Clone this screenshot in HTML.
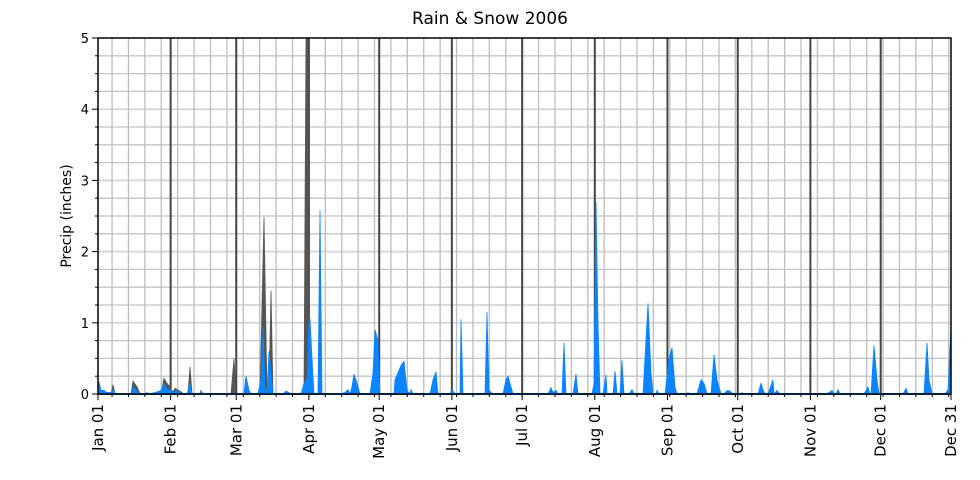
<!DOCTYPE html><html><head><meta charset="utf-8"><style>body{margin:0;background:#fff}svg{display:block}</style></head><body>
<svg id="s" width="980" height="480" xmlns="http://www.w3.org/2000/svg" font-family="DejaVu Sans, Liberation Sans, sans-serif">
<rect width="980" height="480" fill="#fff"/>
<g id="grid"></g>
<polygon id="gray" fill="#555" stroke="#555" stroke-width="0.8"/>
<polygon id="blue" fill="#0a84ff" stroke="#0a84ff" stroke-width="0.8"/>
<line x1="98" y1="394" x2="951" y2="394" stroke="#0a84ff" stroke-width="2"/>
<g id="ax"></g>
<text x="490" y="24" font-size="17" text-anchor="middle">Rain &amp; Snow 2006</text>
<text transform="translate(71,216) rotate(-90)" font-size="14" text-anchor="middle">Precip (inches)</text>
</svg>
<script>
const ns="http://www.w3.org/2000/svg",L=98,R=951,T=38,B=394,S=(B-T)/5,D=(R-L)/364;
function el(p,t,a,txt){const e=document.createElementNS(ns,t);for(const k in a)e.setAttribute(k,a[k]);if(txt!==undefined)e.textContent=txt;document.getElementById(p).appendChild(e);return e;}
const g='grid',ax='ax';
for(let i=1;i<20;i++){const y=B-i*0.25*S;el(g,'line',{x1:L,x2:R,y1:y,y2:y,stroke:i%4==0?'#d8d8d8':'#c4c4c4','stroke-width':i%4==0?2:1.3});}
for(let d=6;d<364;d+=7){const x=L+d*D;el(g,'line',{x1:x,x2:x,y1:T,y2:B,stroke:'#bdbdbd','stroke-width':1.3});el(ax,'line',{x1:x,x2:x,y1:B,y2:B+3,stroke:'#000','stroke-width':1});}
const months=[0,31,59,90,120,151,181,212,243,273,304,334,364],names=['Jan 01','Feb 01','Mar 01','Apr 01','May 01','Jun 01','Jul 01','Aug 01','Sep 01','Oct 01','Nov 01','Dec 01','Dec 31'];
months.forEach((d,i)=>{const x=L+d*D;if(i>0&&i<12)el(g,'line',{x1:x,x2:x,y1:T,y2:B,stroke:'#444','stroke-width':2});el(ax,'line',{x1:x,x2:x,y1:B,y2:B+6,stroke:'#000','stroke-width':1});
el(ax,'text',{transform:`translate(${x+5},${B+10}) rotate(-90)`,'font-size':15,'text-anchor':'end'},names[i]);});
for(let i=0;i<=20;i++){const y=B-i*0.25*S;el(ax,'line',{x1:L,x2:L-(i%4==0?6:3),y1:y,y2:y,stroke:'#000','stroke-width':1});if(i%4==0)el(ax,'text',{x:L-9,y:y+5,'font-size':13,'text-anchor':'end'},String(i/4));}
el(ax,'rect',{x:L,y:T,width:R-L,height:B-T,fill:'none',stroke:'#000','stroke-width':1.5});
function poly(id,pts){let s=`${pts[0][0]},${B} `;pts.forEach(p=>s+=`${p[0]},${B-p[1]*S} `);s+=`${pts[pts.length-1][0]},${B}`;document.getElementById(id).setAttribute('points',s);}
poly('gray',[[98,0],[111,0],[113,0.13],[115,0],[131,0],[133,0.18],[137,0.1],[140,0],[161,0],[164,0.22],[167,0.15],[170,0.1],[172,0],[175,0.08],[180,0.04],[184,0],[188,0],[190,0.38],[192,0],[231,0],[234,0.5],[236,0],[244,0],[246,0.25],[249,0],[260,0],[264,2.48],[267,0],[269,0],[271,1.45],[273,0],[304,0],[306,5],[308,5],[309,0.3],[310,0],[951,0]]);
poly('blue',[[98,0],[99,0.17],[101,0.05],[104,0.05],[107,0.02],[111,0.02],[113,0.06],[115,0],[131,0],[133,0.1],[136,0.05],[139,0],[145,0],[147,0.02],[149,0],[155,0.02],[161,0.05],[164,0.15],[167,0.07],[170,0.05],[172,0.05],[174,0.02],[177,0.05],[180,0.02],[184,0],[187,0],[190,0.15],[192,0],[200,0],[201,0.05],[203,0],[232,0],[244,0],[246,0.25],[249,0.05],[251,0],[258,0],[261,0.2],[263,0.95],[265,0.1],[267,0],[269,0.6],[271,0.3],[273,0],[283,0],[286,0.04],[289,0.02],[292,0],[301,0],[304,0.15],[307,0.2],[309,1.0],[310,1.06],[312,0.5],[314,0],[318,0],[320,2.58],[322,0],[340,0],[345,0.02],[348,0.06],[350,0],[352,0.1],[354,0.28],[357,0.15],[360,0],[370,0],[373,0.3],[375,0.9],[378,0.75],[380,0],[394,0],[395,0.2],[398,0.3],[401,0.4],[404,0.46],[407,0.05],[410,0],[411,0.06],[413,0],[430,0],[433,0.2],[436,0.31],[438,0],[450,0],[452,0.06],[455,0],[460,0],[461,1.05],[463,0],[485,0],[487,1.15],[489,0.05],[493,0],[503,0],[506,0.2],[508,0.25],[511,0.1],[513,0],[548,0],[551,0.09],[553,0.02],[556,0.05],[558,0],[562,0],[564,0.72],[566,0],[573,0],[576,0.28],[578,0],[592,0],[594,0.15],[596,2.7],[598,1.0],[600,0],[603,0],[606,0.27],[607,0],[613,0],[615,0.32],[617,0],[620,0],[622,0.47],[624,0],[629,0],[632,0.06],[634,0],[643,0],[648,1.27],[651,0.3],[653,0],[656,0],[657,0.05],[659,0],[665,0],[669,0.5],[672,0.65],[675,0.1],[677,0],[686,0],[688,0.02],[690,0],[697,0],[701,0.2],[704,0.15],[707,0],[711,0],[714,0.55],[717,0.2],[721,0],[724,0],[727,0.05],[730,0.04],[733,0],[740,0],[742,0.02],[744,0],[758,0],[761,0.15],[763,0.06],[765,0],[768,0],[773,0.2],[774,0],[777,0.05],[780,0],[826,0],[829,0.02],[832,0.05],[834,0],[836,0],[838,0.06],[840,0],[864,0],[868,0.1],[870,0],[871,0],[874,0.68],[877,0.2],[879,0],[903,0],[906,0.08],[908,0],[924,0],[927,0.72],[929,0.2],[932,0],[945,0],[948,0.06],[951,0.95]]);
</script>
</body></html>
